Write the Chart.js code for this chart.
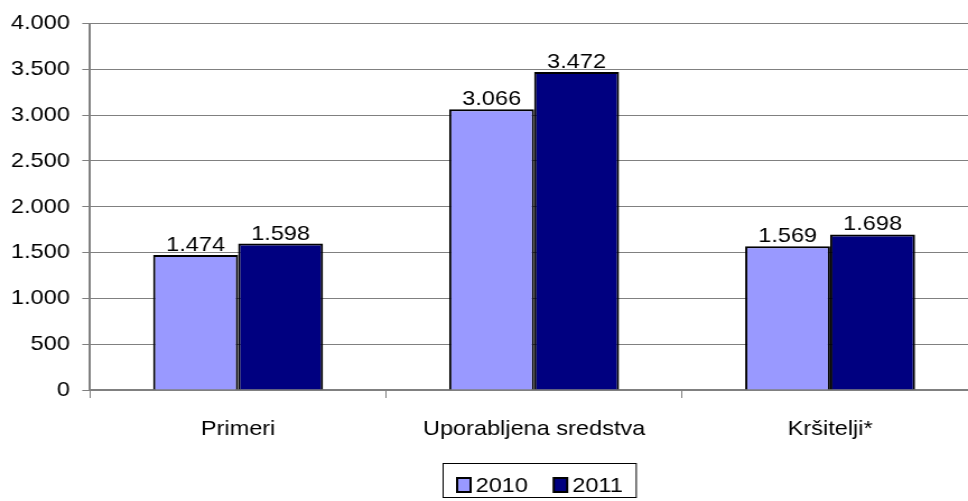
<!DOCTYPE html>
<html>
<head>
<meta charset="utf-8">
<script src="https://cdn.jsdelivr.net/npm/chart.js@4"></script>
<style>
  html, body { margin: 0; padding: 0; background: #fff; overflow: hidden; }
  /* the original picture is stretched sideways, so the canvas is too;
     it is also a bit wider than the window, the plot runs past the right edge */
  #wrap { width: 873px; height: 501px; transform: scaleX(1.1204); transform-origin: 0 0; }
</style>
</head>
<body>
<div id="wrap"><canvas id="myChart" width="873" height="501"></canvas></div>
<script>
'use strict';

const categories = ['Primeri', 'Uporabljena sredstva', 'Kršitelji*'];
const values2010 = [1474, 3066, 1569];
const values2011 = [1598, 3472, 1698];
const seriesNames = ['2010', '2011'];
const seriesColors = ['#9999FF', '#000080'];

const FONT = '"Liberation Sans", Arial, sans-serif';

const fmt = function (v) {
  return v.toLocaleString('de-DE');
};

// value labels above each bar
const barLabels = {
  id: 'barLabels',
  afterDatasetsDraw(chart) {
    const ctx = chart.ctx;
    ctx.save();
    ctx.font = '21px ' + FONT;
    ctx.fillStyle = '#000';
    ctx.textAlign = 'center';
    ctx.textBaseline = 'alphabetic';
    chart.data.datasets.forEach(function (ds, i) {
      chart.getDatasetMeta(i).data.forEach(function (bar, j) {
        ctx.fillText(fmt(ds.data[j]), bar.x, bar.y - 4);
      });
    });
    ctx.restore();
  }
};

// legend in a frame under the chart
const boxLegend = {
  id: 'boxLegend',
  afterDraw(chart) {
    const ctx = chart.ctx;
    ctx.save();
    ctx.font = '21px ' + FONT;
    ctx.textBaseline = 'middle';
    ctx.textAlign = 'left';
    const left = 395.5;
    const top = 463.5;
    const cy = 485;
    let x = left + 12.5;
    let widths = [];
    chart.data.datasets.forEach(function (ds) {
      widths.push(ctx.measureText(ds.label).width);
    });
    chart.data.datasets.forEach(function (ds, i) {
      ctx.fillStyle = ds.backgroundColor;
      ctx.fillRect(x, cy - 7, 12, 14);
      ctx.strokeStyle = '#000';
      ctx.lineWidth = 2;
      ctx.strokeRect(x, cy - 7, 12, 14);
      x += 12 + 4.5;
      ctx.fillStyle = '#000';
      ctx.fillText(ds.label, x, cy + 1);
      x += widths[i] + 23;
    });
    const right = x - 23 + 12;
    ctx.lineWidth = 1;
    ctx.strokeStyle = '#000';
    ctx.strokeRect(left, top, right - left, 34);
    ctx.restore();
  }
};

new Chart(document.getElementById('myChart'), {
  type: 'bar',
  data: {
    labels: categories,
    datasets: [{
      label: seriesNames[0],
      data: values2010,
      backgroundColor: seriesColors[0],
      borderColor: '#000',
      borderWidth: 2,
      borderSkipped: 'bottom'
    }, {
      label: seriesNames[1],
      data: values2011,
      backgroundColor: seriesColors[1],
      borderColor: '#000',
      borderWidth: 2,
      borderSkipped: 'bottom'
    }]
  },
  options: {
    responsive: false,
    animation: false,
    devicePixelRatio: 1,
    layout: { padding: { top: 10, right: 0, left: 0, bottom: 0 } },
    categoryPercentage: 0.574,
    barPercentage: 1,
    plugins: {
      tooltip: { enabled: false },
      legend: { display: false }
    },
    scales: {
      x: {
        offset: true,
        grid: {
          offset: true,
          drawOnChartArea: false,
          color: '#808080',
          tickLength: 8
        },
        border: { color: '#808080', width: 2 },
        ticks: {
          color: '#000',
          padding: 19,
          font: { family: FONT, size: 21 }
        },
        afterFit(scale) { scale.height = 111; }
      },
      y: {
        min: 0,
        max: 4000,
        ticks: {
          stepSize: 500,
          color: '#000',
          padding: 11,
          font: { family: FONT, size: 21 },
          callback: function (v) { return fmt(v); }
        },
        grid: { color: '#808080', tickLength: 7 },
        border: { color: '#808080', width: 2 },
        afterFit(scale) { scale.width = 80.4; }
      }
    }
  },
  plugins: [barLabels, boxLegend]
});
</script>
</body>
</html>
